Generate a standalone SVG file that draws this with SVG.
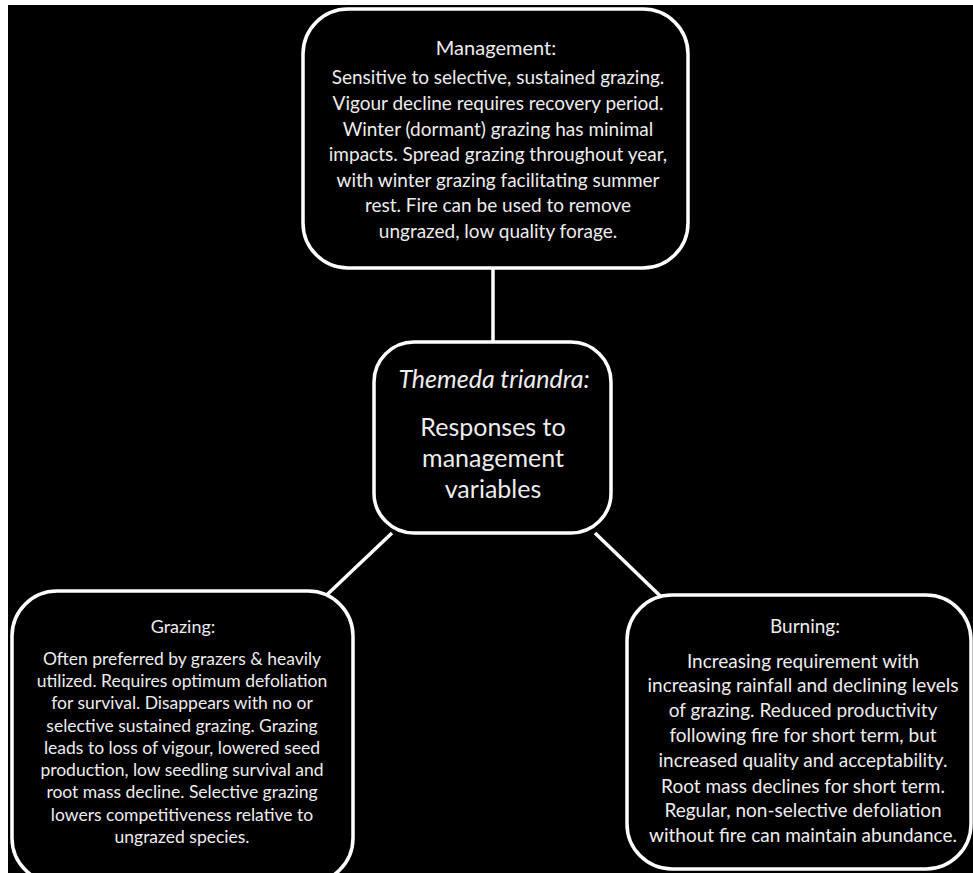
<svg xmlns="http://www.w3.org/2000/svg" width="973" height="873" viewBox="0 0 973 873">
<style>
.box{fill:#000;stroke:#fff;stroke-width:3.5}
.conn{stroke:#fff;stroke-width:3.5;fill:none}
text{font-family:Lato,"Liberation Sans",sans-serif;fill:#ededed;text-anchor:middle}
.t{font-size:19px}
.b{font-size:19px}
.mt{font-size:20px}
.g{font-size:17.5px}
.gt{font-size:18px}
.c{font-size:25px}
</style>
<rect x="0" y="0" width="973" height="873" fill="#fff"/>
<rect x="8" y="5" width="965" height="868" fill="#000"/>
<g id="connectors">
<line class="conn" x1="493" y1="253" x2="493" y2="342"/>
<line class="conn" x1="392" y1="533" x2="313" y2="608"/>
<line class="conn" x1="595" y1="533" x2="680" y2="615"/>
</g>
<g id="management">
<rect class="box" x="303" y="9" width="385" height="259" rx="45"/>
<text class="mt" x="496" y="55">Management:</text>
<text class="b" x="498" y="84">Sensitive to selective, sustained grazing.</text>
<text class="b" x="498" y="110">Vigour decline requires recovery period.</text>
<text class="b" x="498" y="136">Winter (dormant) grazing has minimal</text>
<text class="b" x="498" y="161">impacts. Spread grazing throughout year,</text>
<text class="b" x="498" y="187">with winter grazing facilitating summer</text>
<text class="b" x="498" y="212">rest. Fire can be used to remove</text>
<text class="b" x="498" y="238">ungrazed, low quality forage.</text>
</g>
<g id="center">
<rect class="box" x="374" y="342" width="237" height="191" rx="40"/>
<text class="c" x="494" y="388" font-style="italic">Themeda triandra:</text>
<text class="c" x="493" y="436">Responses to</text>
<text class="c" x="493" y="467">management</text>
<text class="c" x="493" y="498">variables</text>
</g>
<g id="grazing">
<rect class="box" x="12" y="591" width="341" height="292" rx="45"/>
<text class="gt" x="183" y="633">Grazing:</text>
<text class="g" x="182" y="665">Often preferred by grazers &amp; heavily</text>
<text class="g" x="182" y="687">utilized. Requires optimum defoliation</text>
<text class="g" x="182" y="709">for survival. Disappears with no or</text>
<text class="g" x="182" y="732">selective sustained grazing. Grazing</text>
<text class="g" x="182" y="754">leads to loss of vigour, lowered seed</text>
<text class="g" x="182" y="776">production, low seedling survival and</text>
<text class="g" x="182" y="798">root mass decline. Selective grazing</text>
<text class="g" x="182" y="821">lowers competitiveness relative to</text>
<text class="g" x="182" y="843">ungrazed species.</text>
</g>
<g id="burning">
<rect class="box" x="627" y="595" width="344" height="274" rx="45"/>
<text class="t" x="805" y="633">Burning:</text>
<text class="b" x="803" y="668">Increasing requirement with</text>
<text class="b" x="803" y="692">increasing rainfall and declining levels</text>
<text class="b" x="803" y="717">of grazing. Reduced productivity</text>
<text class="b" x="803" y="742">following fire for short term, but</text>
<text class="b" x="803" y="767">increased quality and acceptability.</text>
<text class="b" x="803" y="793">Root mass declines for short term.</text>
<text class="b" x="803" y="817">Regular, non-selective defoliation</text>
<text class="b" x="803" y="842">without fire can maintain abundance.</text>
</g>
</svg>
